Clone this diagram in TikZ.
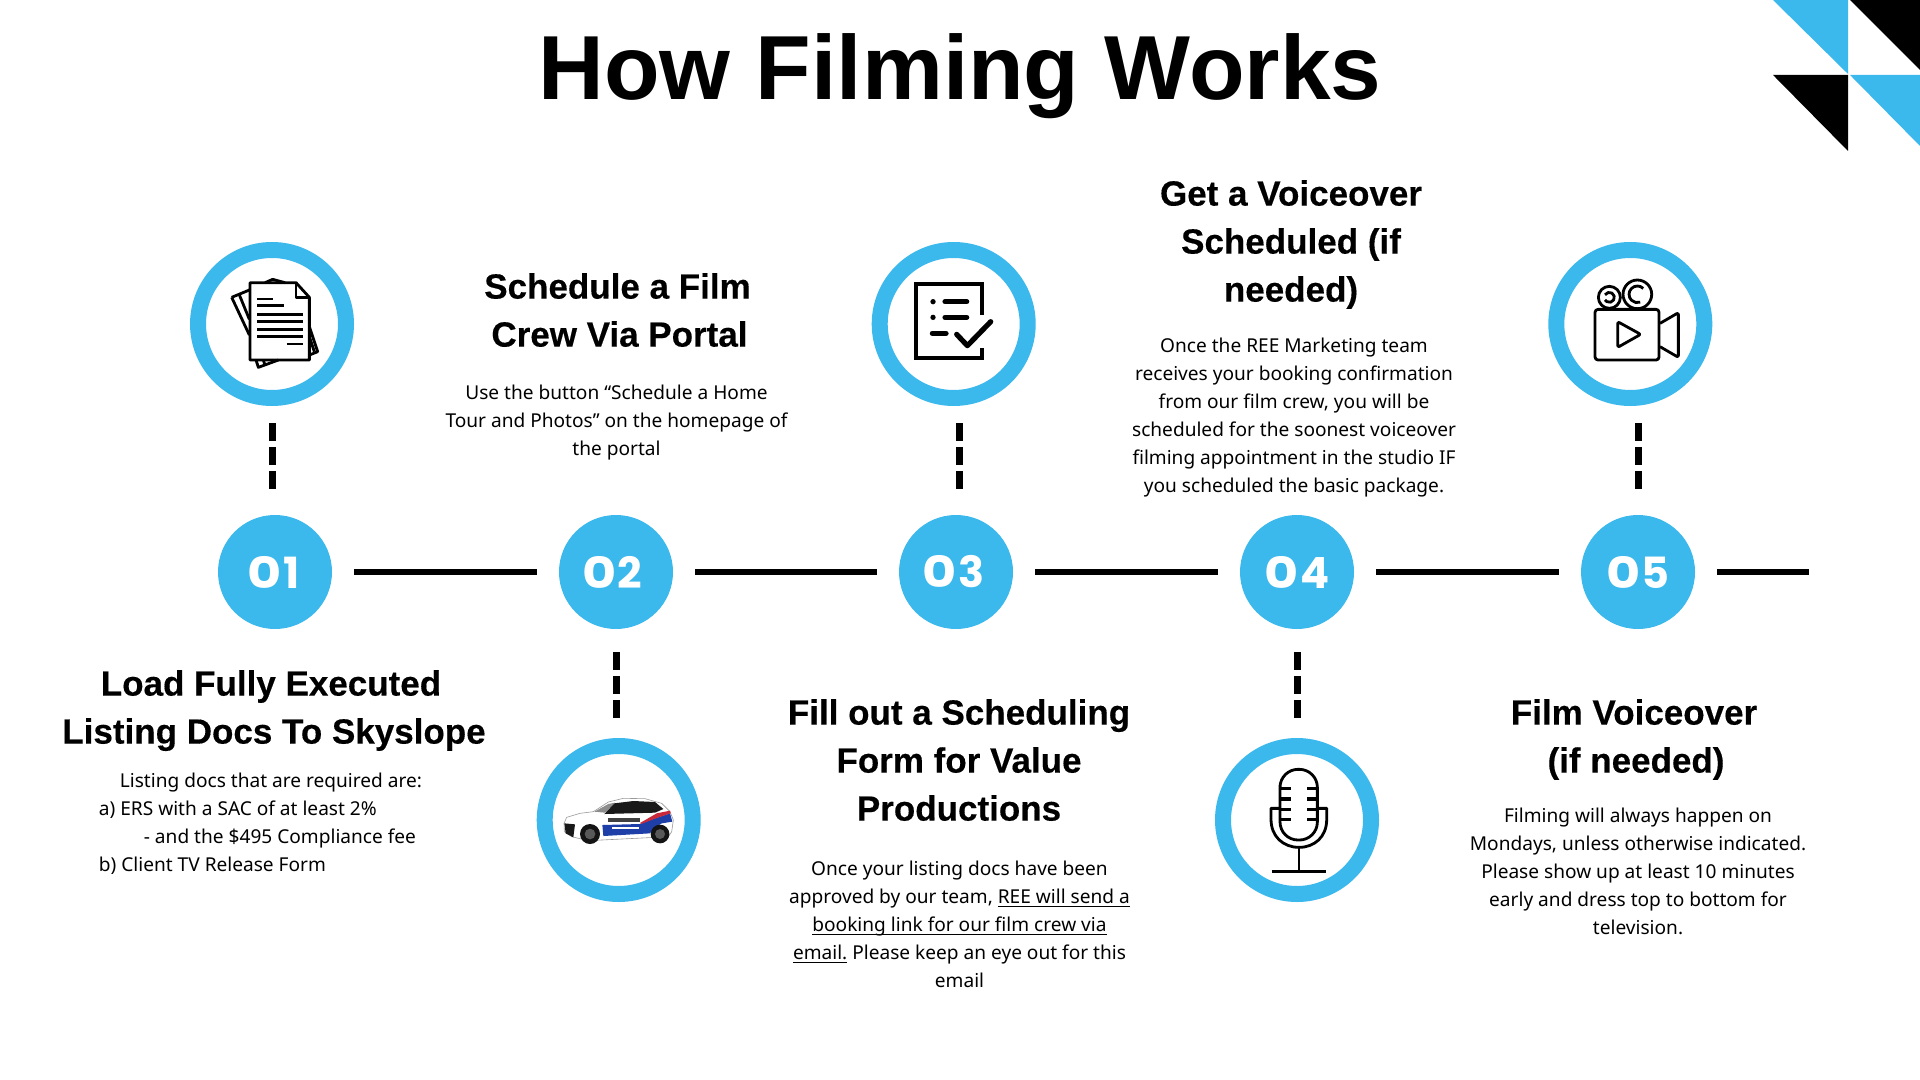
\documentclass[tikz,border=0pt]{standalone}
\usepackage{fontspec}
\setmainfont{Noto Sans}
\newfontfamily\headfont{Liberation Sans}[BoldFeatures={FakeBold=0.35}]
\newfontfamily\titlefont{Liberation Sans}
\newfontfamily\numfont{Poppins}
\usetikzlibrary{calc}
\definecolor{skyb}{HTML}{3BB8EC}
\definecolor{carblue}{HTML}{1F3FA8}
\definecolor{carred}{HTML}{C8283A}
\newcommand\ulx[1]{\underline{\smash{#1}}}
\newcommand\wz{\scalebox{1.22}[1]{0}\kern0.5pt}
\tikzset{
  ringnode/.style={circle,draw=skyb,line width=8pt,minimum size=74pt,inner sep=0pt,fill=white},
  numnode/.style={circle,fill=skyb,text=white,minimum size=57pt,inner sep=0pt,outer sep=0pt,font=\numfont\bfseries\fontsize{21.5}{22}\selectfont},
  linkline/.style={line width=3pt,black,shorten <=11pt,shorten >=11pt},
  dashup/.style={line width=3.5pt,black,dash pattern=on 9pt off 3pt,shorten <=8.5pt,shorten >=13pt},
  dashdown/.style={line width=3.5pt,black,dash pattern=on 9pt off 3pt,shorten <=11.5pt,shorten >=10pt},
  headtext/.style={align=center,inner sep=0pt,font=\headfont\bfseries\fontsize{17.5}{24}\selectfont},
  bodytext/.style={align=center,inner sep=0pt,font=\fontsize{9.55}{14}\selectfont},
  titletext/.style={inner sep=0pt,font=\titlefont\bfseries\fontsize{45.5}{50}\selectfont},
  iconline/.style={line width=1.4pt,black,line join=round},
  iconbar/.style={line width=1.6pt,black},
  iconthick/.style={line width=2.6pt,black,line cap=round,line join=round},
}
\begin{document}
\begin{tikzpicture}[x=0.5pt,y=-0.5pt]
\useasboundingbox (0,0) rectangle (1920,1080);
\fill[white] (0,0) rectangle (1920,1080);
% corner
\fill[skyb] (1773,0) -- (1848,0) -- (1848,74) -- cycle;
\fill[black] (1850,0) -- (1920,0) -- (1920,70) -- cycle;
\fill[black] (1773,75) -- (1848,75) -- (1848,151) -- cycle;
\fill[skyb] (1850,75) -- (1920,75) -- (1920,146) -- cycle;
% title
\node[titletext] (title) at (960,76) {How Filming Works};
% numbered circles
\node[numnode] (n1) at (275,572) {\wz 1\hspace*{1.5pt}};
\node[numnode] (n2) at (616,572) {\wz 2\hspace*{3.5pt}};
\node[numnode] (n3) at (956,572) {\wz 3\hspace*{2.5pt}};
\node[numnode] (n4) at (1297,572) {\wz 4};
\node[numnode] (n5) at (1638,572) {\wz 5};
\coordinate (endpt) at (1831,572);
% rings
\node[ringnode] (r1) at (272,324) {};
\node[ringnode] (r2) at (618.7,820) {};
\node[ringnode] (r3) at (953.7,324) {};
\node[ringnode] (r4) at (1297,820) {};
\node[ringnode] (r5) at (1630.3,324) {};
% connectors
\draw[linkline] (n1) -- (n2);
\draw[linkline] (n2) -- (n3);
\draw[linkline] (n3) -- (n4);
\draw[linkline] (n4) -- (n5);
\draw[linkline] (n5) -- (endpt);
\coordinate (d1) at (272,0);
\coordinate (d2) at (616,0);
\coordinate (d3) at (959,0);
\coordinate (d4) at (1297,0);
\coordinate (d5) at (1638,0);
\draw[dashup] (r1.south -| d1) -- (n1.north -| d1);
\draw[dashdown] (n2.south -| d2) -- (r2.north -| d2);
\draw[dashup] (r3.south -| d3) -- (n3.north -| d3);
\draw[dashdown] (n4.south -| d4) -- (r4.north -| d4);
\draw[dashup] (r5.south -| d5) -- (n5.north -| d5);
% texts
\node[headtext] (h1) at (274,710) {\strut Load Fully Executed\hspace*{3pt}\\Listing Docs To Skyslope\strut};
\node[bodytext,align=left,anchor=north west] (b1) at (98.5,767) {\strut\hspace*{10.5pt}Listing docs that are required are:\\a) ERS with a SAC of at least 2\%\\\hspace*{22.5pt}- and the \$495 Compliance fee\\b) Client TV Release Form\strut};
\node[headtext] (h2) at (619.5,313) {\strut Schedule a Film\hspace*{2pt}\\Crew Via Portal\strut};
\node[bodytext] (b2) at (616.5,422) {\strut Use the button “Schedule a Home\\Tour and Photos” on the homepage of\\the portal\strut};
\node[headtext] (h3) at (959,763) {\strut Fill out a Scheduling\\Form for Value\\Productions\strut};
\node[bodytext] (b3) at (959.5,925.5) {\strut Once your listing docs have been\\approved by our team, \ulx{REE will send a}\\\ulx{booking link for our film crew via}\\\ulx{email.} Please keep an eye out for this\\email\strut};
\node[headtext] (h4) at (1291,244) {\strut Get a Voiceover\\Scheduled (if\\needed)\strut};
\node[bodytext] (b4) at (1294,416.7) {\strut Once the REE Marketing team\\receives your booking confirmation\\from our film crew, you will be\\scheduled for the soonest voiceover\\filming appointment in the studio IF\\you scheduled the basic package.\strut};
\node[headtext] (h5) at (1636,739) {\strut Film Voiceover\hspace*{2pt}\\(if needed)\strut};
\node[bodytext] (b5) at (1638,873) {\strut Filming will always happen on\\Mondays, unless otherwise indicated.\\Please show up at least 10 minutes\\early and dress top to bottom for\\television.\strut};
% doc icon
\begin{scope}[shift={(170,220)},x=0.1667pt,y=-0.1667pt]
 \draw[iconline] (285,188) -- (308,178) -- (345,188);
 \draw[iconline] (185,232) -- (238,210);
 \draw[iconline] (185,232) -- (238,345);
 \draw[iconline] (207,222) -- (238,298);
 \draw[iconline] (418,320) -- (443,395) -- (418,405);
 \draw[iconline] (418,350) -- (433,395);
 \draw[iconline] (258,420) -- (265,442) -- (325,420);
 \draw[iconline] (280,420) -- (285,436);
 \draw[iconline] (240,188) -- (378,188) -- (418,232) -- (418,420) -- (240,420) -- cycle;
 \draw[iconline] (378,188) -- (378,232) -- (418,232);
 \foreach \ya/\xa/\xb in {237/262/308,257/262/342,283/262/398,305/262/398,328/262/398,350/262/398,372/350/398}
  \draw[iconline] (\xa,\ya) -- (\xb,\ya);
\end{scope}
% checklist icon
\begin{scope}[shift={(860,220)},x=0.1667pt,y=-0.1667pt]
 \draw[line width=2.1pt,black,line join=miter] (367,285) -- (367,193) -- (167,193) -- (167,415) -- (367,415) -- (367,385);
 \fill (219,245) circle[radius=8];
 \fill (219,292) circle[radius=8];
 \draw[iconthick] (255,245) -- (320,245);
 \draw[iconthick] (255,292) -- (320,292);
 \draw[iconthick] (217,340) -- (258,340);
 \draw[iconthick] (290,343) -- (322,377) -- (392,305);
\end{scope}
% camera icon
\begin{scope}[shift={(1530,220)},x=0.1667pt,y=-0.1667pt]
 \draw[iconline,rounded corners=1.5pt] (195,268) rectangle (387,420);
 \draw[iconline,rounded corners=1pt] (263,305) -- (332,343) -- (263,382) -- cycle;
 \draw[iconline,rounded corners=1pt] (390,310) -- (445,278) -- (445,412) -- (390,380);
 \draw[iconline] (322,223) circle[radius=43];
 \draw[iconline] (238,232) circle[radius=33];
 \draw[iconline] (339.7,205.3) arc[start angle=-45,end angle=-290,radius=25];
 \draw[iconline] (225,224.5) arc[start angle=-150,end angle=150,radius=15];
\end{scope}
% mic icon
\begin{scope}[shift={(1200,720)},x=0.1667pt,y=-0.1667pt]
 \draw[iconline,rounded corners=9pt] (240,250) -- (240,148) -- (352,148) -- (352,360) -- (240,360) -- cycle;
 \draw[iconline] (240,265) -- (213,265) -- (213,298) .. controls (213,350) and (250,382) .. (297,382) .. controls (344,382) and (380,350) .. (380,298) -- (380,265) -- (352,265);
 \draw[iconline] (297,382) -- (297,455);
 \draw[iconbar] (215,455) -- (378,455);
 \foreach \ya in {205,237,268,298} {
  \draw[iconbar] (240,\ya) -- (272,\ya);
  \draw[iconbar] (322,\ya) -- (352,\ya);
 }
\end{scope}
% car
\begin{scope}[shift={(555,790)},x=0.1667pt,y=-0.1667pt]
 \fill[white,draw=black!40,line width=0.3pt] (28,125) -- (27,100) -- (35,82) -- (75,70) -- (115,65) -- (160,36) -- (205,25) -- (270,26) -- (320,40) -- (345,65) -- (355,90) -- (350,125) -- (340,140) -- (100,152) -- (50,140) -- cycle;
 \fill[black!45] (118,65) -- (160,42) -- (180,38) -- (150,68) -- cycle;
 \fill[black!90] (148,72) -- (178,40) -- (235,33) -- (300,36) -- (325,57) -- (300,68) -- cycle;
 \fill[carblue] (142,105) -- (255,102) -- (300,85) -- (345,70) -- (352,95) -- (320,100) -- (295,115) -- (285,130) -- (145,138) -- cycle;
 \fill[carred] (255,99) -- (305,70) -- (345,62) -- (347,70) -- (305,84) -- (258,102) -- cycle;
 \fill[black!90] (28,100) -- (60,103) -- (55,142) -- (32,130) -- cycle;
 \fill[white] (36,84) -- (72,82) -- (62,88) -- (38,88) -- cycle;
 \fill[black!75] (160,83) rectangle (255,97);
 \fill[white] (172,110) rectangle (252,116);
 \fill[black!92] (105,132) circle[radius=30];
 \fill[black!65] (105,132) circle[radius=16];
 \fill[black!92] (315,132) circle[radius=28];
 \fill[black!65] (315,132) circle[radius=15];
\end{scope}
\end{tikzpicture}
\end{document}
